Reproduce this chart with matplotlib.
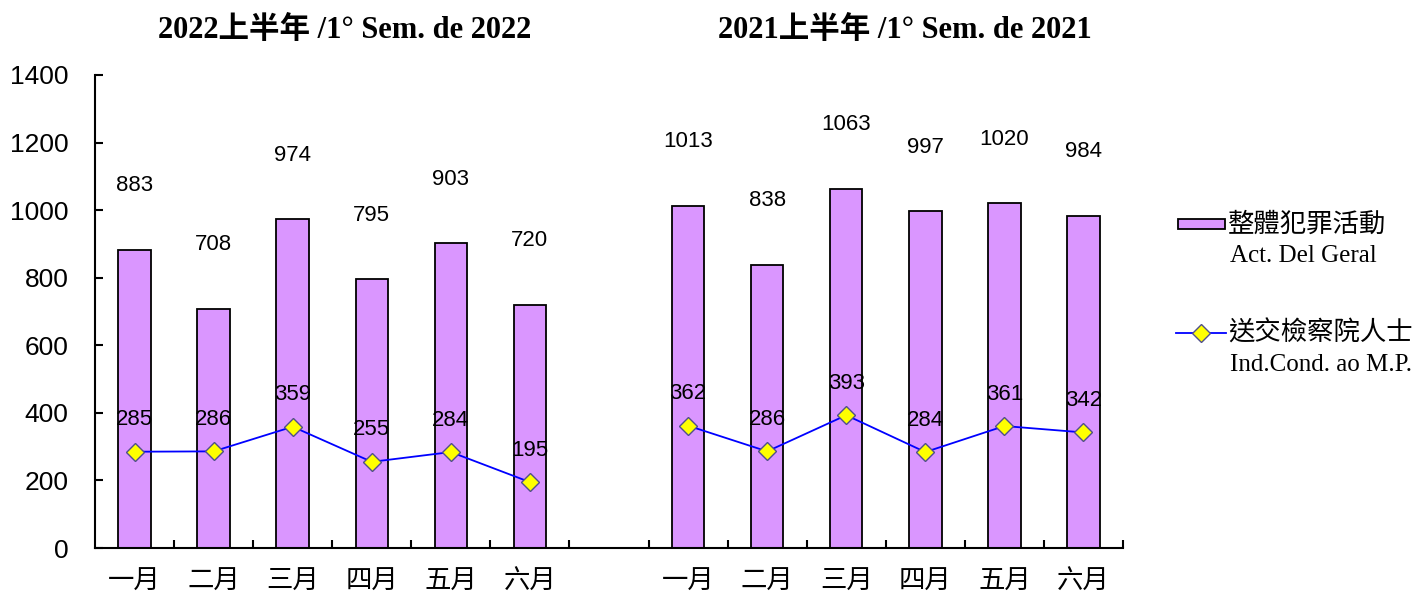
import matplotlib.pyplot as plt
from matplotlib.patches import Rectangle
from matplotlib.lines import Line2D
import numpy as np

months = ["一月", "二月", "三月", "四月", "五月", "六月"]
crime_2022 = [883, 708, 974, 795, 903, 720]
cond_2022 = [285, 286, 359, 255, 284, 195]
crime_2021 = [1013, 838, 1063, 997, 1020, 984]
cond_2021 = [362, 286, 393, 284, 361, 342]

title_2022 = "2022上半年 /1° Sem. de 2022"
title_2021 = "2021上半年 /1° Sem. de 2021"
bar_label = ("整體犯罪活動", "Act. Del Geral")
line_label = ("送交檢察院人士", "Ind.Cond. ao M.P.")

BAR_C = "#DA96FF"
LINE_C = "#0000FF"
SANS = ["Liberation Sans", "Noto Sans CJK TC"]
SERIF = ["Liberation Serif", "Noto Sans CJK TC"]
CJK = ["Noto Sans CJK TC", "DejaVu Sans"]

x1 = np.arange(6)
x2 = np.arange(7, 13)

fig = plt.figure(figsize=(14.2, 5.96), dpi=100)
ax = fig.add_axes([95 / 1420, 48 / 596, 1028 / 1420, 473 / 596])

for xs, bars, line in [(x1, crime_2022, cond_2022), (x2, crime_2021, cond_2021)]:
    ax.bar(xs, bars, width=0.41, color=BAR_C, edgecolor="black", linewidth=1.3, zorder=2)
    ax.plot(xs, line, color=LINE_C, lw=1.3, marker="D", markersize=9,
            markerfacecolor="#FFFF00", markeredgecolor="#50508A", markeredgewidth=1, zorder=3)
    for x, v in zip(xs, bars):
        ax.annotate(str(v), (x, v), xytext=(0, 46), textcoords="offset points",
                    ha="center", va="center", fontsize=16, family=SANS, zorder=4)
    for x, v in zip(xs, line):
        ax.annotate(str(v), (x, v), xytext=(0, 23), textcoords="offset points",
                    ha="center", va="center", fontsize=16, family=SANS, zorder=4)

ax.set_xlim(-0.5, 12.5)
ax.set_ylim(0, 1400)
ax.set_yticks(range(0, 1401, 200))
ax.set_xticks(list(x1) + list(x2))
ax.set_xticklabels(months + months, family=CJK, fontsize=19)
ax.set_xticks(np.arange(0.5, 12.6, 1), minor=True)
ax.tick_params(axis="x", which="major", length=0, pad=14)
ax.tick_params(axis="x", which="minor", direction="in", length=6, width=1.5)
ax.tick_params(axis="y", direction="in", length=6, width=1.5, labelsize=19, pad=19)
for lab in ax.get_yticklabels():
    lab.set_family(SANS)
for s in ["top", "right"]:
    ax.spines[s].set_visible(False)
for s in ["left", "bottom"]:
    ax.spines[s].set_linewidth(1.5)

fig.text(345 / 1420, 1 - 30 / 596, title_2022, ha="center", va="center",
         fontsize=22, fontweight="bold", family=SERIF)
fig.text(905 / 1420, 1 - 30 / 596, title_2021, ha="center", va="center",
         fontsize=22, fontweight="bold", family=SERIF)

# legend drawn by hand
fig.add_artist(Rectangle((1178 / 1420, 1 - 229 / 596), 47 / 1420, 10 / 596,
                         transform=fig.transFigure, facecolor=BAR_C, edgecolor="black", lw=1.3))
fig.add_artist(Line2D([1176 / 1420, 1226 / 1420], [1 - 333 / 596] * 2, transform=fig.transFigure,
                      color=LINE_C, lw=1.3))
fig.add_artist(Line2D([1201 / 1420], [1 - 333 / 596], transform=fig.transFigure, marker="D",
                      markersize=9, markerfacecolor="#FFFF00", markeredgecolor="#50508A"))
fig.text(1228 / 1420, 1 - 224 / 596, bar_label[0], va="center", fontsize=19, family=CJK)
fig.text(1230 / 1420, 1 - 256 / 596, bar_label[1], va="center", fontsize=18, family=SERIF)
fig.text(1228 / 1420, 1 - 333 / 596, line_label[0], va="center", fontsize=19, family=CJK)
fig.text(1230 / 1420, 1 - 365 / 596, line_label[1], va="center", fontsize=18, family=SERIF)

fig.savefig("out.png", dpi=100)
